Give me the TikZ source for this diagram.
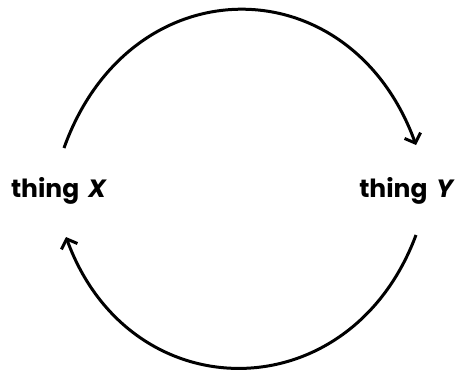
\documentclass[tikz,border=0pt]{standalone}
\usepackage{fontspec}
\setmainfont{Poppins}
\usetikzlibrary{arrows.meta,calc}
\begin{document}
\begin{tikzpicture}[x=1pt,y=-1pt,
  lbl/.style={font=\fontsize{25}{28}\selectfont\bfseries, inner sep=0pt},
  link/.style={line width=3pt, -{Straight Barb[length=8pt,width=17pt,line width=3pt]}}]
\useasboundingbox[fill=white] (0,0) rectangle (461,375);
\node[lbl] (x) at (59,191) {thing\hspace{0.35em}\textit{X}};
\node[lbl] (y) at (407,191) {thing\hspace{0.35em}\textit{Y}};
\draw[link] ($(x)+(5,-43)$) .. controls ($(x)+(71,-227)$) and ($(y)+(-57,-227)$) .. ($(y)+(9,-46)$);
\draw[link] ($(y)+(9,44)$) .. controls ($(y)+(-57,221)$) and ($(x)+(71,221)$) .. ($(x)+(7,46)$);
\end{tikzpicture}
\end{document}
